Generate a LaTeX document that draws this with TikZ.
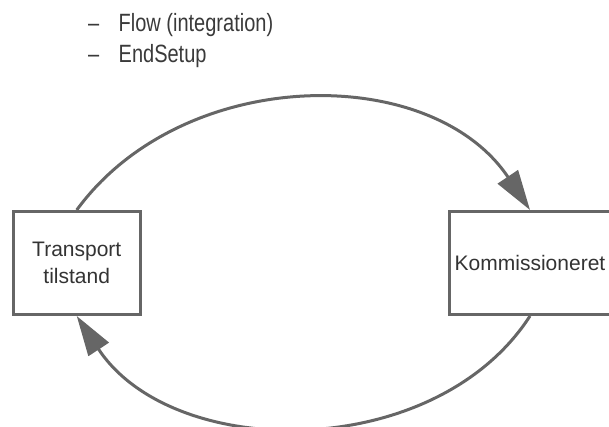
\documentclass[tikz,border=0pt]{standalone}
\usepackage{fontspec}
\setmainfont{Liberation Sans}
\newfontfamily\condfont[FakeStretch=0.8]{Liberation Sans}
\usetikzlibrary{arrows.meta}
\definecolor{linegray}{HTML}{666666}
\definecolor{txtgray}{HTML}{333333}
\definecolor{toptxt}{HTML}{3A3A3A}
\tikzset{
  statebox/.style={draw=linegray, line width=3pt, fill=white, minimum height=103pt,
    text=txtgray, align=center, font=\fontsize{21}{27}\selectfont, inner sep=0pt},
  flowline/.style={draw=linegray, line width=3pt, -{Triangle[length=40pt,width=24pt]}},
  toptext/.style={anchor=base west, inner sep=0pt, text=toptxt, font=\condfont\fontsize{25}{30}\selectfont}
}
\begin{document}
\begin{tikzpicture}[x=1pt,y=-1pt]
\useasboundingbox (0,0) rectangle (609,427);
\node[toptext] (d1) at (88,32) {–};
\node[toptext] (t1) at (118.5,32) {Flow (integration)};
\node[toptext] (d2) at (88,63) {–};
\node[toptext] (t2) at (118.5,63) {EndSetup};
\node[statebox, minimum width=126.5pt] (lbox) at (76.75,263) {Transport\\tilstand};
\node[statebox, minimum width=162pt] (rbox) at (530,263) {Kommissioneret};
\draw[flowline] (lbox.north) .. controls +(106,-145) and +(-99,-148) .. (rbox.north);
\draw[flowline] (rbox.south) .. controls +(-95,147) and +(96,146) .. (lbox.south);
\end{tikzpicture}
\end{document}
